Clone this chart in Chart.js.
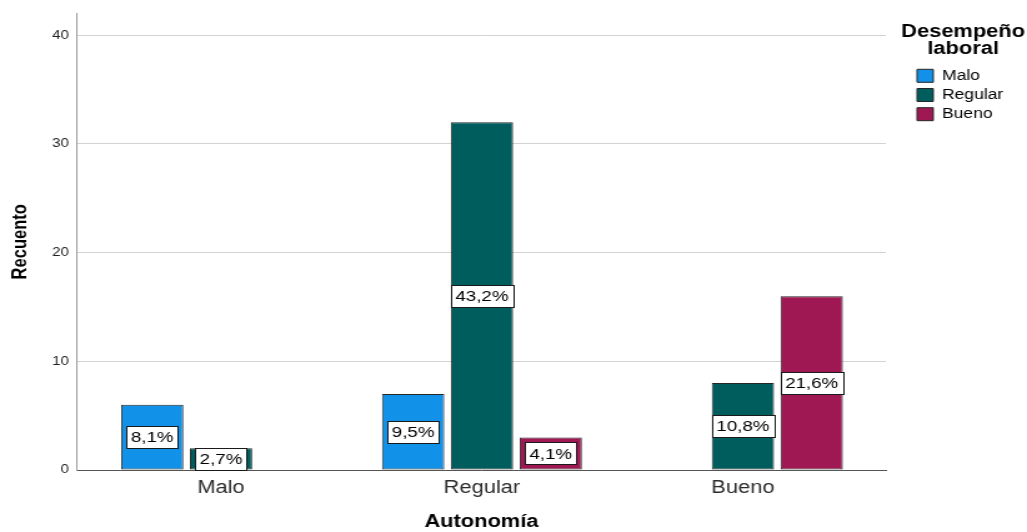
<!DOCTYPE html>
<html lang="es">
<head>
<meta charset="utf-8">
<title>Autonomía según desempeño laboral</title>
<script src="https://cdn.jsdelivr.net/npm/chart.js@4.4.1/dist/chart.umd.min.js"></script>
<style>
  html, body { margin: 0; padding: 0; background: #fff; overflow: hidden; }
  /* the chart is laid out narrower and widened horizontally, like the exported figure */
  #frame { width: 822px; height: 532px; transform: scaleX(1.24939); transform-origin: 0 0; }
</style>
</head>
<body>
<div id="frame"><canvas id="chart"></canvas></div>
<script>
// Autonomía (x categories) split by Desempeño laboral (series); counts per cell
const categories = ['Malo', 'Regular', 'Bueno'];
const seriesNames = ['Malo', 'Regular', 'Bueno'];
const countsMalo = [6, 7, null];
const countsRegular = [2, 32, 8];
const countsBueno = [null, 3, 16];
const yTicks = [0, 10, 20, 30, 40];
const seriesColors = ['#1192e8', '#005d5d', '#9f1853'];

const seriesCounts = [countsMalo, countsRegular, countsBueno];
const total = seriesCounts.flat().reduce((a, v) => a + (v || 0), 0);

const FONT = '"Liberation Sans", Arial, Helvetica, sans-serif';
Chart.defaults.font.family = FONT;

function percentText(v) {
  return (v / total * 100).toFixed(1).replace('.', ',') + '%';
}

// white boxed percentage label centred on each bar
const percentLabels = {
  id: 'percentLabels',
  afterDatasetsDraw(chart) {
    const ctx = chart.ctx;
    ctx.save();
    ctx.font = '15px ' + FONT;
    ctx.textAlign = 'center';
    ctx.textBaseline = 'middle';
    chart.data.datasets.forEach((ds, di) => {
      const meta = chart.getDatasetMeta(di);
      meta.data.forEach((bar, i) => {
        const v = ds.data[i].y;
        if (v == null) return;
        const p = bar.getProps(['x', 'y', 'base'], true);
        const cy = (p.y + p.base) / 2;
        const text = percentText(v);
        const w = Math.round(ctx.measureText(text).width + 7);
        const h = 22;
        const left = Math.round(p.x - w / 2) + 0.5;
        const top = Math.round(cy - h / 2) + 0.5;
        ctx.fillStyle = '#ffffff';
        ctx.fillRect(left, top, w, h);
        ctx.strokeStyle = '#1a1a1a';
        ctx.lineWidth = 1;
        ctx.strokeRect(left, top, w, h);
        ctx.fillStyle = '#000000';
        ctx.fillText(text, p.x, cy + 1);
      });
    });
    ctx.restore();
  }
};

// moves the legend block right, leaving a gap after the plot area,
// and lets its two-line title spill past the narrow item column
const legendOffset = {
  id: 'legendOffset',
  afterLayout(chart, args, opts) {
    const lg = chart.legend;
    if (!lg) return;
    lg.left += opts.shift;
    lg.right += opts.shift;
    if (!lg._unclipped) {
      lg.draw = function () {
        if (this.options.display) this._draw();
      };
      lg._unclipped = true;
    }
  }
};

new Chart(document.getElementById('chart'), {
  type: 'bar',
  data: {
    datasets: seriesNames.map((name, k) => ({
      label: name,
      data: seriesCounts[k].map((v, i) => ({ x: i, y: v })),
      backgroundColor: seriesColors[k],
      borderColor: '#262626',
      borderWidth: 1,
      borderSkipped: false,
      categoryPercentage: 0.791,
      barPercentage: 0.905
    }))
  },
  options: {
    responsive: true,
    maintainAspectRatio: false,
    animation: false,
    layout: { padding: { top: 13, right: 28.7, bottom: 0, left: 0 } },
    scales: {
      x: {
        type: 'linear',
        min: -0.552,
        max: 2.548,
        offset: false,
        grid: { display: false, drawTicks: false },
        border: { display: true, color: '#555555', width: 1 },
        afterBuildTicks: s => { s.ticks = categories.map((_, i) => ({ value: i })); },
        ticks: {
          autoSkip: false,
          maxRotation: 0,
          padding: 8,
          color: '#2b2b2b',
          font: { size: 17.5 },
          callback: v => categories[v]
        },
        title: {
          display: true,
          text: 'Autonomía',
          color: '#000000',
          font: { size: 17.5, weight: 'bold', lineHeight: 1 },
          padding: { top: 0, bottom: 1 }
        },
        afterFit: s => { s.height = 62; }
      },
      y: {
        min: 0,
        max: 42,
        afterBuildTicks: s => { s.ticks = yTicks.map(v => ({ value: v })); },
        grid: {
          color: c => (c.tick && c.tick.value === 0 ? 'rgba(0,0,0,0)' : '#d3d3d3'),
          drawTicks: false,
          lineWidth: 1
        },
        border: { display: true, color: '#9a9a9a', width: 1 },
        ticks: { padding: 6.4, color: '#222222', font: { size: 12 } },
        title: {
          display: true,
          text: 'Recuento',
          color: '#000000',
          font: { size: 16.5, weight: 'bold', lineHeight: 1 },
          padding: { top: 8, bottom: 0 }
        },
        afterFit: s => { s.width = 61.6; }
      }
    },
    plugins: {
      tooltip: { enabled: false },
      legendOffset: { shift: 19.7 },
      legend: {
        position: 'right',
        align: 'start',
        title: {
          display: true,
          text: ['Desempeño', 'laboral'],
          position: 'center',
          color: '#000000',
          font: { size: 17.5, weight: 'bold', lineHeight: '17px' },
          padding: { top: 10, bottom: 23.6 }
        },
        labels: {
          boxWidth: 13,
          boxHeight: 13,
          padding: 5.2,
          color: '#000000',
          font: { size: 14 }
        }
      }
    }
  },
  plugins: [percentLabels, legendOffset]
});
</script>
</body>
</html>
